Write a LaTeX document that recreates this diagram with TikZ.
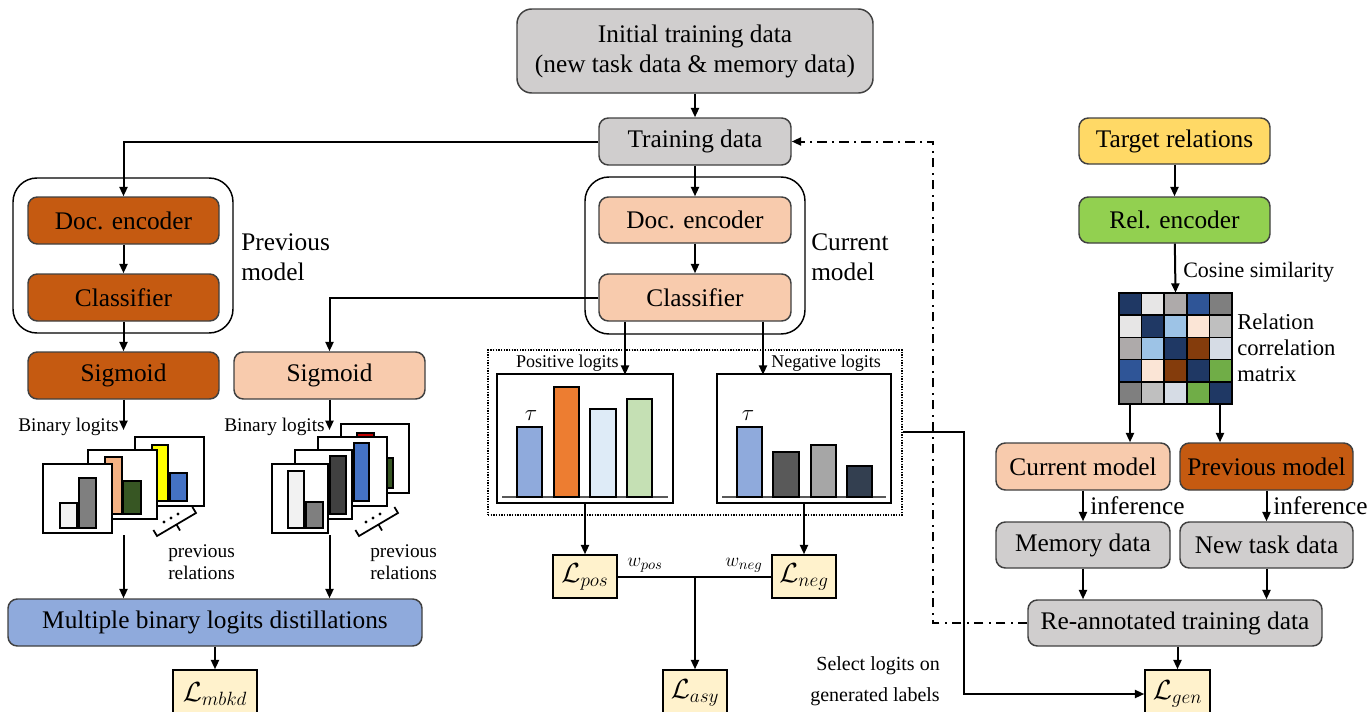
\documentclass[tikz,border=0pt]{standalone}
\usepackage{fontspec}
\setmainfont{Liberation Serif}
\usetikzlibrary{arrows.meta}
\definecolor{gbox}{HTML}{D0CECE}
\definecolor{dor}{HTML}{C55A11}
\definecolor{lor}{HTML}{F8CBAD}
\definecolor{bbox}{HTML}{8FAADC}
\definecolor{lbox}{HTML}{FFF2CC}
\definecolor{ybox}{HTML}{FFD966}
\definecolor{grn}{HTML}{92D050}
\definecolor{edge}{HTML}{404040}
\definecolor{mN}{HTML}{1F3864}
\definecolor{mL}{HTML}{E7E6E6}
\definecolor{mG}{HTML}{AEAAAA}
\definecolor{mB}{HTML}{2F5597}
\definecolor{mD}{HTML}{7F7F7F}
\definecolor{mS}{HTML}{BFBFBF}
\definecolor{mC}{HTML}{9DC3E6}
\definecolor{mP}{HTML}{FBE5D6}
\definecolor{mR}{HTML}{843C0C}
\definecolor{mT}{HTML}{D6DCE5}
\definecolor{mV}{HTML}{70AD47}
\newcommand{\myfs}{\fontsize{19}{22.5}\selectfont}
\begin{document}
\begin{tikzpicture}[x=0.75pt,y=-0.75pt,
  wh/.style 2 args={minimum width=#1*0.75pt, minimum height=#2*0.75pt},
  box/.style={draw=edge, line width=1.1pt, rounded corners=7pt, inner sep=0pt, font=\myfs, text=black},
  outerbox/.style={draw=black, line width=1.1pt, rounded corners=18pt, inner sep=0pt},
  loss/.style={draw=black, line width=1.1pt, fill=lbox, inner sep=0pt, font=\fontsize{20}{24}\selectfont},
  arr/.style={line width=1.5pt, -{Triangle[length=7pt,width=6pt]}},
  ln/.style={line width=1.5pt},
  ddarr/.style={line width=1.5pt, dash pattern=on 7pt off 4pt on 1.5pt off 4pt, -{Triangle[length=7pt,width=6pt]}},
  frame/.style={draw=black, line width=1.4pt, fill=white},
  bar/.style={draw=black, line width=1.1pt},
  lbl/.style={inner sep=0pt, text=black}
]
\useasboundingbox (0,0) rectangle (1371,711);

% ---------- top ----------
\node[box, fill=gbox, wh={356}{84}, rounded corners=11pt, align=center] (init) at (695,51) {Initial training data\\(new task data \& memory data)};
\node[box, fill=gbox, wh={192}{47}] (train) at (695,141.5) {Training data};

% ---------- previous model ----------
\node[outerbox, wh={220}{155}] (prevOuter) at (123,255.5) {};
\node[box, fill=dor, wh={191}{47}] (pEnc) at (123.5,220.5) {Doc. encoder};
\node[box, fill=dor, wh={191}{47}] (pCls) at (123.5,297.5) {Classifier};
\node[lbl, font=\myfs, align=left, anchor=west] (pLab) at (241,257) {Previous\\model};
\node[box, fill=dor, wh={191}{47}] (pSig) at (123.5,375.5) {Sigmoid};
\node[box, fill=lor, wh={191}{47}] (cSig) at (329.5,375.5) {Sigmoid};

% ---------- current model ----------
\node[outerbox, wh={220}{157}] (curOuter) at (695,255.5) {};
\node[box, fill=lor, wh={192}{46}] (cEnc) at (695,220) {Doc. encoder};
\node[box, fill=lor, wh={192}{47}] (cCls) at (695,297.5) {Classifier};
\node[lbl, font=\myfs, align=left, anchor=west] (cLab) at (811,257) {Current\\model};

\draw[arr] (init) -- (train);
\draw[arr] (train.west) -| (pEnc.north);
\draw[arr] (train) -- (cEnc);
\draw[arr] (pEnc) -- (pCls);
\draw[arr] (pCls) -- (pSig);
\draw[arr] (cEnc) -- (cCls);
\draw[arr] (cCls.west) -| (cSig.north);

% ---------- binary logits stacks ----------
\coordinate (bl1) at (123.5,430);
\coordinate (bl2) at (329.5,430);
\draw[arr] (pSig.south) -- (bl1);
\draw[arr] (cSig.south) -- (bl2);
\node[lbl, font=\fontsize{14.5}{17}\selectfont, anchor=east] (blt1) at (119,427) {Binary logits};
\node[lbl, font=\fontsize{14.5}{17}\selectfont, anchor=east] (blt2) at (325,427) {Binary logits};

% left stack
\draw[frame] (135,437) rectangle (204,506);
\draw[bar, fill={rgb,255:red,255;green,255;blue,0}] (152,445) rectangle (168,501);
\draw[bar, fill={rgb,255:red,68;green,114;blue,196}] (170,473) rectangle (187,501);
\draw[frame] (88,450) rectangle (157,519);
\draw[bar, fill={rgb,255:red,244;green,177;blue,131}] (105,457) rectangle (122,514);
\draw[bar, fill={rgb,255:red,55;green,86;blue,35}] (123,481) rectangle (141,514);
\draw[frame] (43,464) rectangle (112,533);
\draw[bar, fill={rgb,255:red,242;green,242;blue,242}] (60,503) rectangle (77,528);
\draw[bar, fill={rgb,255:red,127;green,127;blue,127}] (79,478) rectangle (96,528);
% bracket + dots
\draw[line width=1.3pt] (153.4,530) -- (157,536) -- (196,513) -- (192.4,507);
\draw[line width=1.3pt] (176.5,524.5) -- (180,530.5);
\foreach \p in {(164,522),(171,518),(178,514)} \fill \p circle (1.6);
\node[lbl, font=\fontsize{14.5}{16.5}\selectfont, align=left, anchor=west] (pr1) at (168,562) {previous\\relations};

% right stack
\draw[frame] (341,424) rectangle (409,493);
\draw[bar, fill={rgb,255:red,192;green,0;blue,0}] (357,433) rectangle (374,488);
\draw[bar, fill={rgb,255:red,55;green,86;blue,35}] (377,458) rectangle (393,488);
\draw[frame] (318,437) rectangle (387,506);
\draw[bar, fill={rgb,255:red,68;green,114;blue,196}] (354,443) rectangle (369,501);
\draw[frame] (295,450) rectangle (352,519);
\draw[bar, fill={rgb,255:red,64;green,64;blue,64}] (330,456) rectangle (346,514);
\draw[frame] (272,464) rectangle (328,533);
\draw[bar, fill={rgb,255:red,242;green,242;blue,242}] (288,471) rectangle (304,528);
\draw[bar, fill={rgb,255:red,127;green,127;blue,127}] (306,502) rectangle (323,528);
\draw[line width=1.3pt] (355.4,530) -- (359,536) -- (398,513) -- (394.4,507);
\draw[line width=1.3pt] (378.5,524.5) -- (382,530.5);
\foreach \p in {(366,522),(373,518),(380,514)} \fill \p circle (1.6);
\node[lbl, font=\fontsize{14.5}{16.5}\selectfont, align=left, anchor=west] (pr2) at (370,562) {previous\\relations};

% MBKD
\node[box, fill=bbox, wh={414}{47}] (MBLD) at (215,622.5) {Multiple binary logits distillations};
\coordinate (bl1s) at (123.5,535);
\coordinate (bl2s) at (329.5,535);
\draw[arr] (bl1s) -- (bl1s |- MBLD.north);
\draw[arr] (bl2s) -- (bl2s |- MBLD.north);
\node[loss, wh={84}{48}] (Lmbkd) at (215,694) {$\mathcal{L}_{mbkd}$};
\draw[arr] (MBLD) -- (Lmbkd);

% ---------- logits ----------
\node[draw=black, densely dotted, line width=1pt, wh={414}{165}] (dotBox) at (695,432.5) {};
\node[draw=black, line width=1.3pt, wh={176}{129}, fill=white] (posBox) at (585,438.5) {};
\node[draw=black, line width=1.3pt, wh={174}{129}, fill=white] (negBox) at (804,438.5) {};
\draw[line width=1.5pt, black!65] (502,497) -- (668,497);
\draw[line width=1.5pt, black!65] (722,497) -- (886,497);
\draw[bar, fill={rgb,255:red,143;green,170;blue,220}] (517,427) rectangle (542,497);
\draw[bar, fill={rgb,255:red,237;green,125;blue,49}] (554,387) rectangle (579,497);
\draw[bar, fill={rgb,255:red,222;green,235;blue,247}] (590,409) rectangle (616,497);
\draw[bar, fill={rgb,255:red,197;green,224;blue,180}] (627,399) rectangle (652,497);
\draw[bar, fill={rgb,255:red,143;green,170;blue,220}] (737,427) rectangle (762,497);
\draw[bar, fill={rgb,255:red,89;green,89;blue,89}] (773,452) rectangle (799,497);
\draw[bar, fill={rgb,255:red,166;green,166;blue,166}] (811,445) rectangle (836,497);
\draw[bar, fill={rgb,255:red,51;green,63;blue,80}] (847,466) rectangle (872,497);
\node[lbl, font=\fontsize{17}{20}\selectfont] (tau1) at (531,416) {$\tau$};
\node[lbl, font=\fontsize{17}{20}\selectfont] (tau2) at (748,416) {$\tau$};
\node[lbl, font=\fontsize{13.5}{16}\selectfont, anchor=east] (posT) at (619,363) {Positive logits};
\node[lbl, font=\fontsize{13.5}{16}\selectfont, anchor=west] (negT) at (771,363) {Negative logits};
\draw[arr] ([xshift=-52.5pt]cCls.south) -- ++(0,53);
\draw[arr] ([xshift=51pt]cCls.south) -- ++(0,53);

\node[loss, wh={64}{43}] (Lpos) at (585,576.5) {$\mathcal{L}_{pos}$};
\node[loss, wh={64}{43}] (Lneg) at (804,576.5) {$\mathcal{L}_{neg}$};
\node[loss, wh={64}{46}] (Lasy) at (695,693) {$\mathcal{L}_{asy}$};
\draw[arr] (posBox.south) -- (Lpos.north);
\draw[arr] (negBox.south) -- (Lneg.north);
\draw[ln] (Lpos.east) -- (Lneg.west);
\coordinate (jn) at (695,576.5);
\draw[arr] (jn) -- (Lasy.north);
\node[lbl, font=\fontsize{15}{18}\selectfont] (wp) at (645,565) {$w_{pos}$};
\node[lbl, font=\fontsize{15}{18}\selectfont] (wn) at (744,565) {$w_{neg}$};

% ---------- right side ----------
\node[box, fill=ybox, wh={191}{46}] (target) at (1174.5,141) {Target relations};
\node[box, fill=grn, wh={191}{46}] (relEnc) at (1174.5,220) {Rel. encoder};
\draw[arr] (target) -- (relEnc);
\foreach \cc [count=\k from 0] in {mN,mL,mG,mB,mD, mL,mN,mC,mP,mS, mG,mC,mN,mR,mT, mB,mP,mR,mN,mV, mD,mS,mT,mV,mN} {
  \pgfmathtruncatemacro{\rr}{\k/5}
  \pgfmathtruncatemacro{\qq}{mod(\k,5)}
  \filldraw[fill=\cc, draw=black, line width=1.2pt] ({1119+\qq*22.6},{293+\rr*22.2}) rectangle ++(22.6,22.2);
}
\node[inner sep=0pt, wh={113}{111}] (mat) at (1175.5,348.5) {};
\draw[arr] (relEnc) -- (mat.north);
\node[lbl, font=\fontsize{16.5}{19}\selectfont, anchor=west] (cos) at (1183,272) {Cosine similarity};
\node[lbl, font=\fontsize{17}{19.5}\selectfont, align=left, anchor=west] (rcm) at (1237,348) {Relation\\correlation\\matrix};

\node[box, fill=lor, wh={174}{47}] (curM) at (1083,466.5) {Current model};
\node[box, fill=dor, wh={173}{47}] (prevM) at (1266.5,466.5) {Previous model};
\coordinate (ma) at (1130,404);
\coordinate (mb) at (1220,404);
\draw[arr] (ma) -- (ma |- curM.north);
\draw[arr] (mb) -- (mb |- prevM.north);
\node[box, fill=gbox, wh={174}{46}] (mem) at (1083,545) {Memory data};
\node[box, fill=gbox, wh={173}{46}] (newT) at (1266.5,545) {New task data};
\draw[arr] (curM) -- (mem);
\draw[arr] (prevM) -- (newT);
\node[lbl, font=\myfs, anchor=west] (inf1) at (1090,506) {inference};
\node[lbl, font=\myfs, anchor=west] (inf2) at (1273,506) {inference};
\node[box, fill=gbox, wh={294}{46}] (reann) at (1175,623) {Re-annotated training data};
\draw[arr] (mem.south) -- (mem.south |- reann.north);
\draw[arr] (newT.south) -- (newT.south |- reann.north);
\node[loss, wh={65}{48}] (Lgen) at (1177.5,694) {$\mathcal{L}_{gen}$};
\draw[arr] (Lgen.north |- reann.south) -- (Lgen.north);

% dash-dot feedback
\coordinate (dcx) at (933,0);
\draw[ddarr] (reann.west) -- (reann.west -| dcx) |- (train.east);

% select logits
\coordinate (s1) at (964,432);
\draw[arr] (dotBox.east |- s1) -- (s1) |- (Lgen.west);
\node[lbl, font=\fontsize{15}{23}\selectfont, align=right, anchor=east] (sel) at (940,681) {Select logits on\\generated labels};
\end{tikzpicture}
\end{document}
